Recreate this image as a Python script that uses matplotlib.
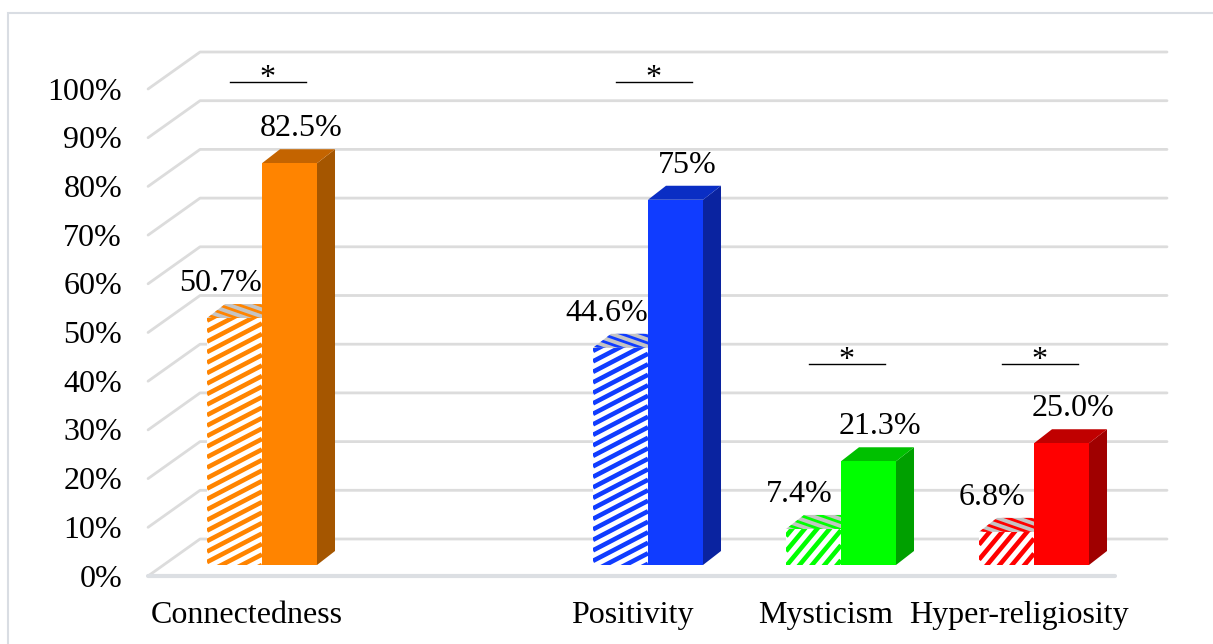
import numpy as np
import matplotlib.pyplot as plt
from matplotlib.patches import Polygon, Rectangle
from matplotlib.collections import LineCollection

plt.rcParams["font.family"] = ["Liberation Serif", "DejaVu Serif"]

# --- data -------------------------------------------------------------
CATEGORIES = ["Connectedness", "", "Positivity", "Mysticism", "Hyper-religiosity"]
BEFORE = [50.7, np.nan, 44.6, 7.4, 6.8]      # hatched bars
AFTER = [82.5, np.nan, 75.0, 21.3, 25.0]     # solid bars
BEFORE_LABELS = ["50.7%", "", "44.6%", "7.4%", "6.8%"]
AFTER_LABELS = ["82.5%", "", "75%", "21.3%", "25.0%"]
SIGNIFICANT = [True, False, True, True, True]
Y_TICKS = list(range(0, 101, 10))

# colours per category (front / top / side)
FRONT = ["#ff8400", None, "#103cff", "#00ff00", "#ff0000"]
TOP = ["#c46400", None, "#0a2ec4", "#00c000", "#c00000"]
SIDE = ["#a55600", None, "#0a23a0", "#00a000", "#a00000"]
# stripe look of the hatched bars (slope and vertical spacing in pixels)
STRIPE_SLOPE = [0.52, None, 0.52, 1.2, 1.2]
STRIPE_GAP = [10.5, None, 10.5, 15, 15]

# --- layout (pixel calibration of the 3D look) ------------------------
W_PX, H_PX = 1213, 644
X0_PX, CAT_PX = 262, 193     # category 0 and spacing
Y0_PX, PCT_PX = 565, 4.87    # 0% on the bar plane, px per percent

BACK_DX, BACK_DY = 36.5 / CAT_PX, 26 / PCT_PX
FRONT_DX, FRONT_DY = -15.5 / CAT_PX, -11 / PCT_PX
BAR_DX, BAR_DY = 18 / CAT_PX, 14 / PCT_PX
BAR_W = 0.285
XL, XR = -0.51, 4.5
SIG_Y = [99.2, None, 99.2, 41.3, 41.3]
FS = 23

GRID = "#dcdcdc"


def draw_walls(ax):
    for v in Y_TICKS:
        xs = [XL + FRONT_DX, XL + BACK_DX, XR + BACK_DX]
        ys = [v + FRONT_DY, v + BACK_DY, v + BACK_DY]
        ax.plot(xs, ys, color=GRID, lw=2.0, solid_capstyle="round", zorder=1)
        ax.text(XL + FRONT_DX - 0.135, v + FRONT_DY - 2.16, f"{v}%",
                ha="right", va="baseline", fontsize=FS)
    ax.plot([XL + FRONT_DX, XR + FRONT_DX], [FRONT_DY, FRONT_DY],
            color="#dcdfe3", lw=3, solid_capstyle="round", zorder=1)


def stripes(ax, patch, x0, x1, y0, y1, slope_px, gap_px, color, lw, z):
    # parallel lines clipped to the patch
    k = slope_px * CAT_PX / PCT_PX
    gap = gap_px / PCT_PX
    c_lo = min(y0 - k * x0, y0 - k * x1) - gap
    c_hi = max(y1 - k * x0, y1 - k * x1) + gap
    start = np.floor(c_lo / gap) * gap
    segs = [[(x0, c + k * x0), (x1, c + k * x1)]
            for c in np.arange(start, c_hi, gap)]
    lc = LineCollection(segs, colors=color, linewidths=lw, zorder=z)
    ax.add_collection(lc)
    lc.set_clip_path(patch)


def draw_solid(ax, x, w, v, i, z=4):
    ax.add_patch(Polygon([(x + w, 0), (x + w + BAR_DX, BAR_DY),
                          (x + w + BAR_DX, v + BAR_DY), (x + w, v)],
                         closed=True, facecolor=SIDE[i], lw=0, zorder=z))
    ax.add_patch(Polygon([(x, v), (x + BAR_DX, v + BAR_DY),
                          (x + w + BAR_DX, v + BAR_DY), (x + w, v)],
                         closed=True, facecolor=TOP[i], lw=0, zorder=z))
    ax.bar(x, v, width=w, align="edge", color=FRONT[i], lw=0, zorder=z)


def draw_hatched(ax, x, w, v, i, z=3):
    top = Polygon([(x, v), (x + BAR_DX, v + BAR_DY),
                   (x + w + BAR_DX, v + BAR_DY), (x + w, v)],
                  closed=True, facecolor="#c4c4c4", lw=0, zorder=z)
    ax.add_patch(top)
    stripes(ax, top, x, x + w + BAR_DX, v, v + BAR_DY, -0.35, 7,
            FRONT[i], 2.0, z)
    bar = ax.bar(x, v, width=w, align="edge", color="white", lw=0, zorder=z)[0]
    stripes(ax, bar, x, x + w, 0, v, STRIPE_SLOPE[i], STRIPE_GAP[i],
            FRONT[i], 3.3, z)


def main():
    fig = plt.figure(figsize=(W_PX / 100, H_PX / 100), dpi=100)
    ax = fig.add_axes([0, 0, 1, 1])
    ax.set_xlim(-X0_PX / CAT_PX, (W_PX - X0_PX) / CAT_PX)
    ax.set_ylim((Y0_PX - H_PX) / PCT_PX, Y0_PX / PCT_PX)
    ax.axis("off")

    # outer chart border
    fig.patches.append(Rectangle((8 / W_PX, -0.05), 1.2, (H_PX - 13) / H_PX + 0.05,
                                 transform=fig.transFigure, fill=False,
                                 edgecolor="#d9dde3", lw=1.5))

    draw_walls(ax)

    for i, name in enumerate(CATEGORIES):
        if name:
            ax.text(i + FRONT_DX, FRONT_DY - 9.65, name, ha="center",
                    va="baseline", fontsize=FS)
        if np.isnan(BEFORE[i]):
            continue
        b, a = BEFORE[i], AFTER[i]
        draw_hatched(ax, i - BAR_W, BAR_W, b, i)
        draw_solid(ax, i, BAR_W, a, i)

        ax.text(i - BAR_W / 2 - 0.073, b + 5.5, BEFORE_LABELS[i],
                ha="center", va="baseline", fontsize=FS, zorder=6)
        ax.text(i + BAR_W / 2 + 0.06, a + 5.5, AFTER_LABELS[i],
                ha="center", va="baseline", fontsize=FS, zorder=6)

        if SIGNIFICANT[i]:
            cx = i + 0.03
            ax.plot([cx - 0.197, cx + 0.197], [SIG_Y[i], SIG_Y[i]],
                    color="black", lw=1.0, zorder=6)
            ax.text(cx, SIG_Y[i] - 0.8, "*", ha="center", va="baseline",
                    fontsize=FS, zorder=6)

    fig.savefig("out.png", dpi=100)


if __name__ == "__main__":
    main()
